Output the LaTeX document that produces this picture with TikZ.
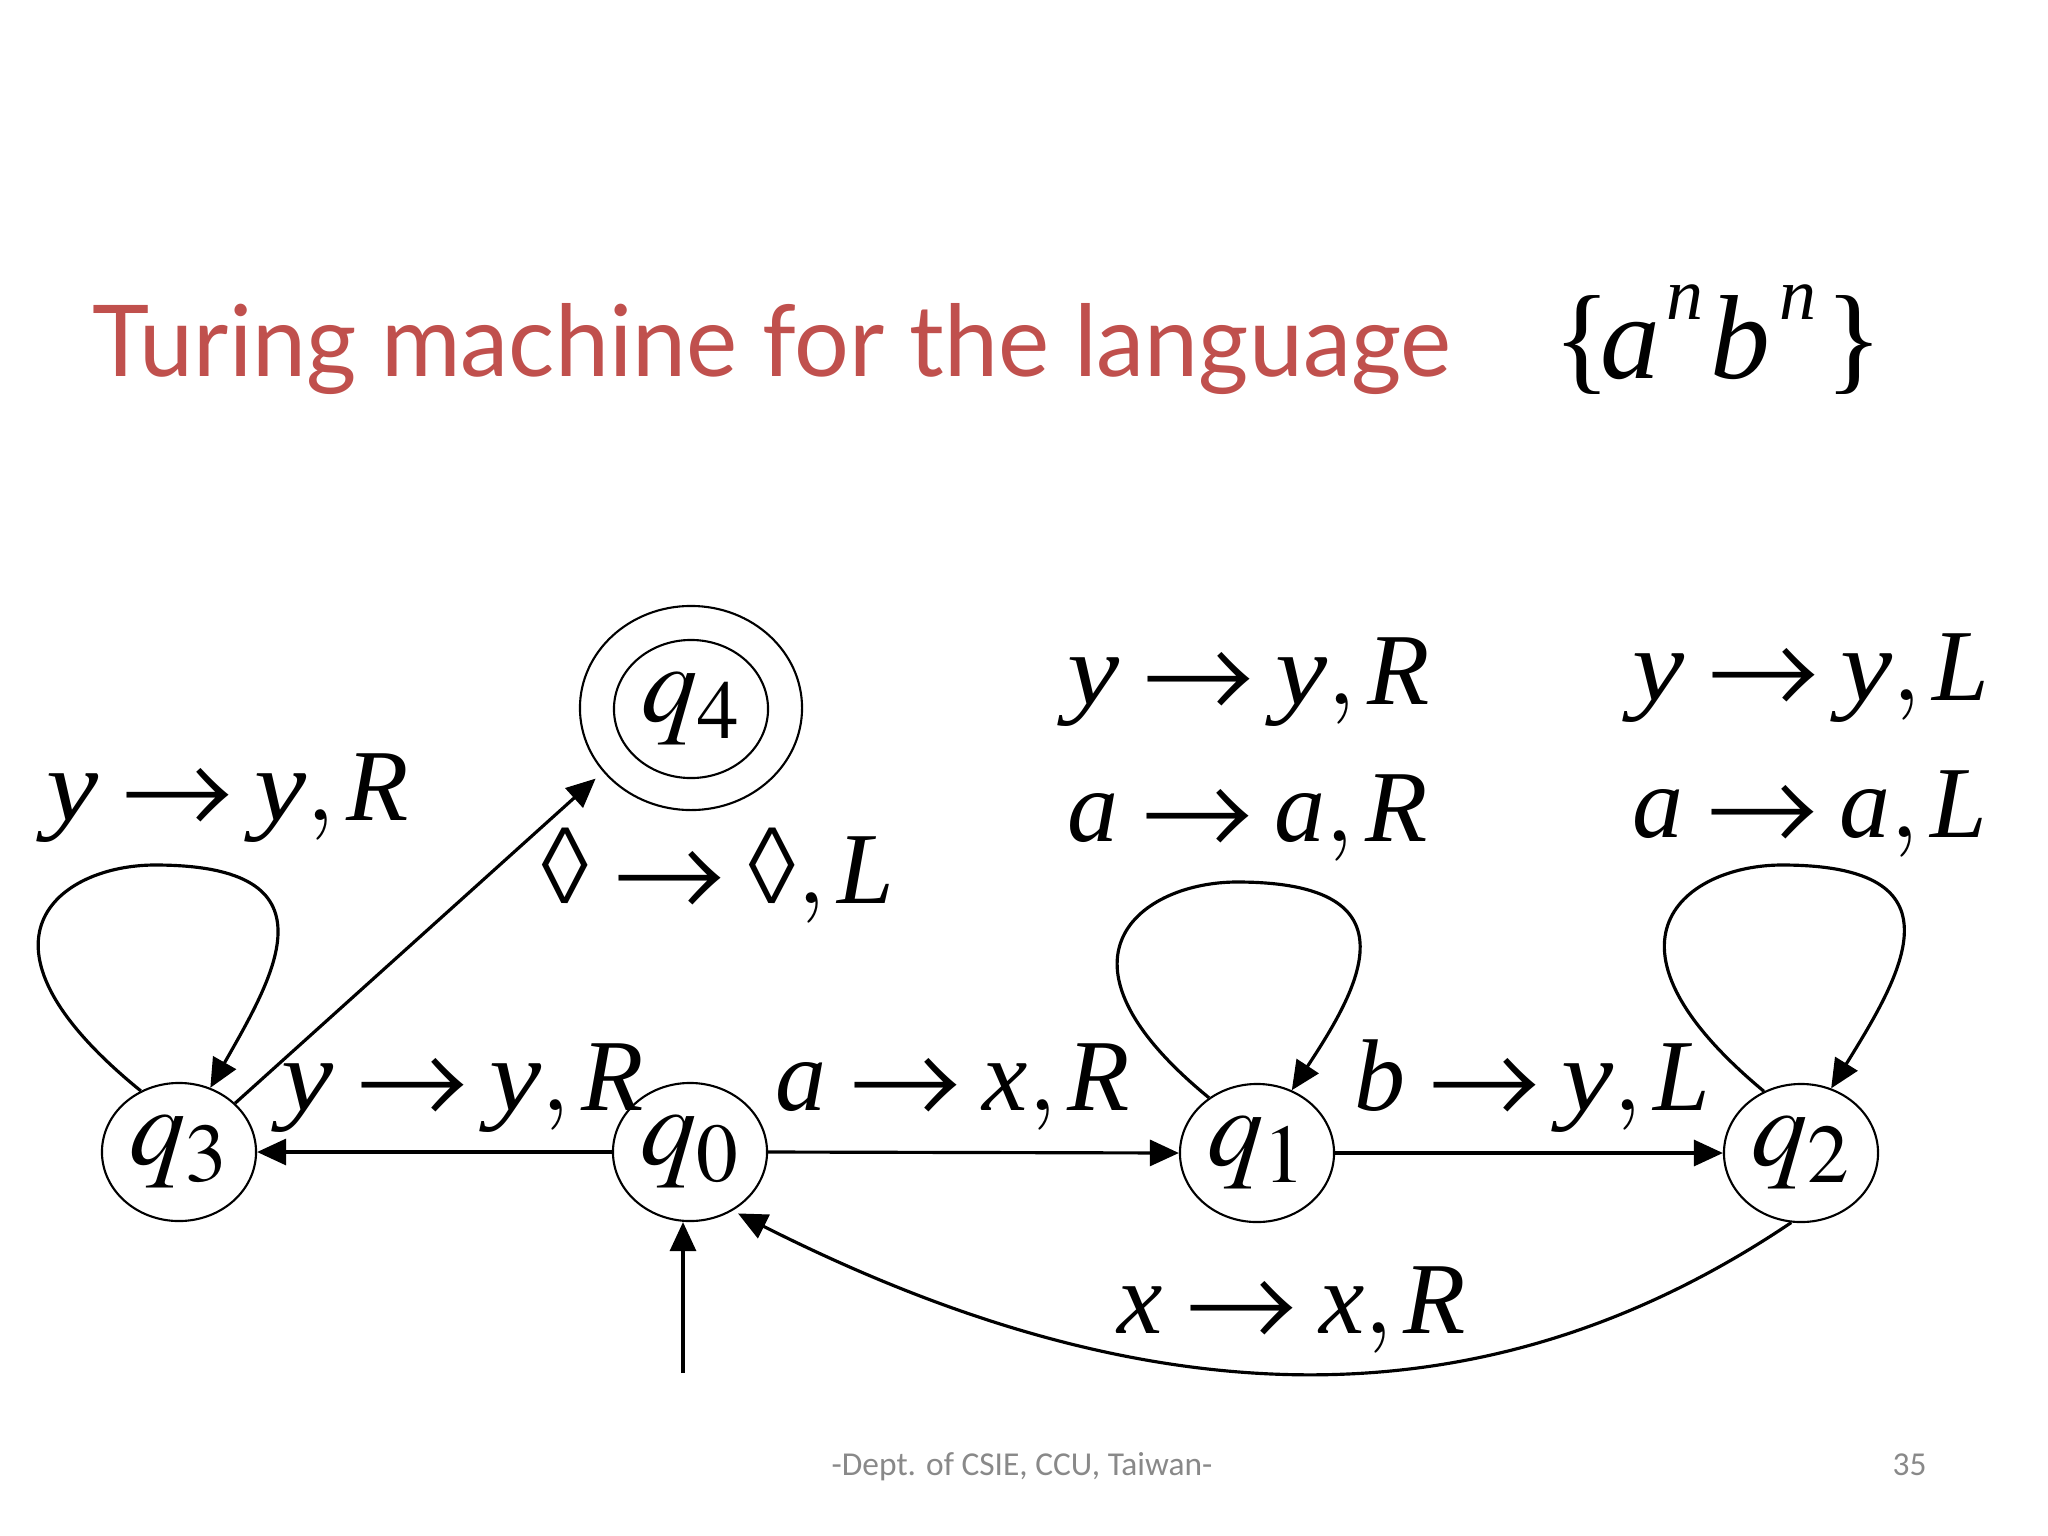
\documentclass[tikz,border=0pt]{standalone}
\usepackage{mathptmx}
\usepackage{graphicx}
\usepackage{pifont}
\usepackage{fontspec}
\setmainfont{Liberation Serif}
\newfontfamily\titlefont{Lato}
\newfontfamily\footfont{Carlito}
\usetikzlibrary{shapes.geometric,arrows.meta}
\definecolor{titlered}{HTML}{C0504D}
\definecolor{footgray}{HTML}{898989}
\newcommand{\symarr}{\mathrel{\mbox{\scalebox{1.1}[1]{\Pisymbol{psy}{174}}}}}
\newcommand{\symloz}{\mbox{\Pisymbol{psy}{224}}}
\newcommand{\tv}[1]{\mbox{\itshape #1}}
\newcommand{\yy}{\mbox{\scalebox{1.15}[1]{\itshape y}}}
\tikzset{
  st/.style={ellipse, draw, line width=0.6pt, minimum width=1.54cm, minimum height=1.38cm, inner sep=0pt, font=\fontsize{32}{36}\selectfont},
  conn/.style={line width=0.9pt, -{Triangle[length=0.29cm,width=0.26cm]}},
  lbl/.style={anchor=base west, inner sep=0pt, font=\fontsize{29}{32}\selectfont},
}
\begin{document}
\begin{tikzpicture}[x=0.01cm, y=-0.01cm]
\fill[white] (0,0) rectangle (2048,1536);
\useasboundingbox (0,0) rectangle (2048,1536);

% title
\node[anchor=base west, inner sep=0pt, text=titlered] (title) at (92,376)
  {\resizebox{13.58cm}{0.73cm}{\titlefont Turing machine for the language}};
\node[anchor=base west, inner sep=0pt] (lang) at (1551,378)
  {\fontsize{34}{36}\selectfont
   \rlap{\{}%
   \rlap{\hspace{0.47cm}\tv{a}}%
   \rlap{\hspace{1.13cm}\raisebox{0.58cm}{\fontsize{21}{22}\selectfont\tv{n}}}%
   \rlap{\hspace{1.57cm}\tv{b}}%
   \rlap{\hspace{2.26cm}\raisebox{0.58cm}{\fontsize{21}{22}\selectfont\tv{n}}}%
   \rlap{\hspace{2.72cm}\}}};

% states
\node[st] (q3) at (179,1152) {$q_3$};
\node[st] (q0) at (690,1152) {$q_0$};
\node[st] (q1) at (1257,1153) {$q_1$};
\node[st] (q2) at (1801,1153) {$q_2$};
\node[st] (q4) at (691,709) {$q_4$};
\node[ellipse, draw, line width=0.6pt, minimum width=2.22cm, minimum height=2.04cm, inner sep=0pt] (q4o) at (691,708) {};

% loop tops
\coordinate (t3) at (155,865);
\coordinate (t1) at (1237,882);
\coordinate (t2) at (1782,865);
\coordinate (init) at (683,1373);

% transitions
\draw[conn] (q0.west) -- (q3.east);
\draw[conn] (q0.east) -- (q1.west);
\draw[conn] (q1.east) -- (q2.west);
\draw[conn, shorten >=0.1cm] (q3.41) -- (q4o.216);
\draw[conn] (q3.122) .. controls (-45,940) and (60,865) .. (t3)
                     .. controls (340,865) and (275,974) .. (q3.64);
\draw[conn] (q1.131) .. controls (1037,957) and (1142,882) .. (t1)
                     .. controls (1422,882) and (1357,991) .. (q1.61);
\draw[conn] (q2.121) .. controls (1582,940) and (1687,865) .. (t2)
                     .. controls (1967,865) and (1902,974) .. (q2.65);
\draw[conn, shorten >=0.06cm] (q2.-98) .. controls (1491,1425) and (1157,1425) .. (q0.-54);
\draw[conn] (init) -- (init |- q0.south);

% labels
\node[lbl] (l3)  at (46,820)   {$\yy\symarr\yy,\tv{R}$};
\node[lbl] (l30) at (281,1110) {$\yy\symarr\yy,\tv{R}$};
\node[lbl] (l01) at (775,1110) {$\tv{a}\symarr\tv{x},\tv{R}$};
\node[lbl] (l12) at (1354,1110) {$\tv{b}\symarr\yy,\tv{L}$};
\node[lbl] (l1a) at (1067,704) {$\yy\symarr\yy,\tv{R}$};
\node[lbl] (l1b) at (1067,841) {$\tv{a}\symarr\tv{a},\tv{R}$};
\node[lbl] (l2a) at (1632,700) {$\yy\symarr\yy,\tv{L}$};
\node[lbl] (l2b) at (1632,837) {$\tv{a}\symarr\tv{a},\tv{L}$};
\node[lbl] (l34) at (540,903)  {$\symloz\symarr\symloz,\tv{L}$};
\node[lbl] (l20) at (1117,1333) {$\tv{x}\symarr\tv{x},\tv{R}$};

% footer
\node[anchor=base west, inner sep=0pt, text=footgray, font=\footfont\fontsize{9.5}{11}\selectfont] (foot) at (831,1475) {-Dept. of CSIE, CCU, Taiwan-};
\node[anchor=base west, inner sep=0pt, text=footgray, font=\footfont\fontsize{9.5}{11}\selectfont] (page) at (1892,1475) {35};
\end{tikzpicture}
\end{document}
